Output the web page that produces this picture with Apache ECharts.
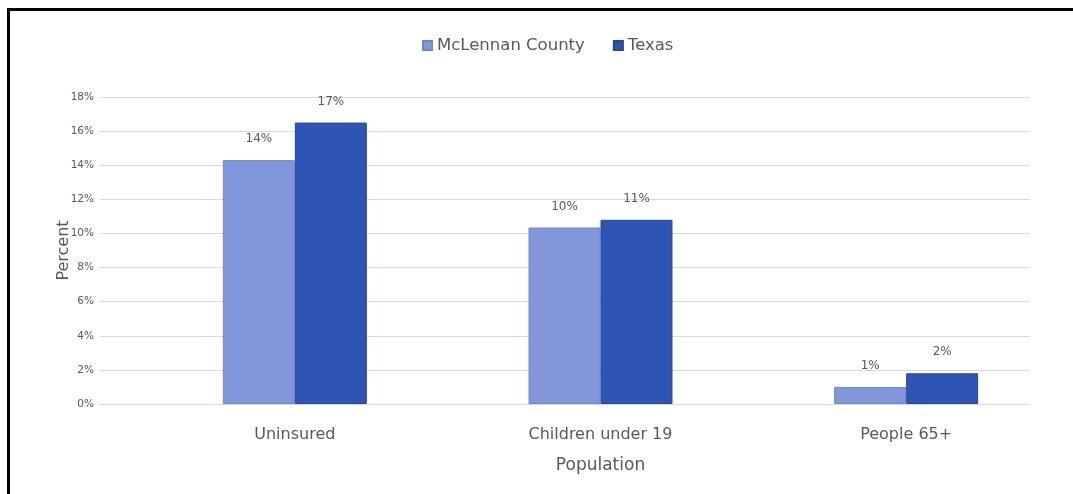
<!DOCTYPE html>
<html>
<head>
<meta charset="utf-8">
<style>
  html, body { margin: 0; padding: 0; background: #fff; }
  #chart { width: 1073px; height: 494px; }
</style>
<script src="https://cdn.jsdelivr.net/npm/echarts@6/dist/echarts.min.js"></script>
</head>
<body>
<div id="chart"></div>
<script>
// Share of population without health insurance
const categories = ['Uninsured', 'Children under 19', 'People 65+'];
const mclennan = [14.3, 10.35, 1.0];
const texas = [16.5, 10.8, 1.8];
const seriesNames = ['McLennan County', 'Texas'];
const yTicks = { min: 0, max: 18, interval: 2 };

const FONT = 'DejaVu Sans';
const TEXT = '#595959';

const chart = echarts.init(document.getElementById('chart'));

const labelOpt = {
  show: true,
  position: 'top',
  distance: 15,
  color: TEXT,
  fontFamily: FONT,
  fontSize: 12,
  formatter: p => Math.round(p.value) + '%'
};

chart.setOption({
  animation: false,
  backgroundColor: '#fff',
  textStyle: { fontFamily: FONT },
  legend: {
    data: seriesNames,
    top: 32,
    left: 417,
    icon: 'rect',
    itemWidth: 9,
    itemHeight: 9,
    itemGap: 28,
    textStyle: { color: TEXT, fontSize: 16.5, fontFamily: FONT }
  },
  grid: [
    // value scale and gridlines
    { left: 100, right: 43, top: 97, bottom: 90 },
    // bars
    { left: 142, right: 14, top: 97, bottom: 90 }
  ],
  xAxis: [
    { type: 'category', gridIndex: 0, data: categories, show: false },
    {
      type: 'category', gridIndex: 1, data: categories,
      axisLine: { show: false }, axisTick: { show: false },
      axisLabel: { color: TEXT, fontSize: 16, fontFamily: FONT, margin: 23 },
      name: 'Population', nameLocation: 'middle', nameGap: 53,
      nameTextStyle: { color: TEXT, fontSize: 17, fontFamily: FONT }
    }
  ],
  yAxis: [
    {
      type: 'value', gridIndex: 0,
      min: yTicks.min, max: yTicks.max, interval: yTicks.interval,
      axisLabel: { color: TEXT, fontSize: 10.5, fontFamily: FONT, margin: 6, formatter: '{value}%' },
      splitLine: { lineStyle: { color: '#d9d9d9', width: 1 } },
      axisLine: { show: false }, axisTick: { show: false },
      name: 'Percent', nameLocation: 'middle', nameGap: 28, nameRotate: 90,
      nameMoveOverlap: false,
      nameTextStyle: { color: TEXT, fontSize: 16, fontFamily: FONT }
    },
    {
      type: 'value', gridIndex: 1,
      min: yTicks.min, max: yTicks.max, interval: yTicks.interval,
      show: false, splitLine: { show: false }
    }
  ],
  series: [
    {
      name: seriesNames[0], type: 'bar', xAxisIndex: 1, yAxisIndex: 1,
      data: mclennan, barWidth: 72, barGap: '0%',
      itemStyle: { color: '#8297d9', borderColor: '#7086cc', borderWidth: 1 },
      label: labelOpt
    },
    {
      name: seriesNames[1], type: 'bar', xAxisIndex: 1, yAxisIndex: 1,
      data: texas, barWidth: 72, barGap: '0%',
      itemStyle: { color: '#2e55b4', borderColor: '#24479c', borderWidth: 1 },
      label: labelOpt
    }
  ],
  graphic: [
    { type: 'rect', left: 7, top: 8, shape: { width: 3, height: 486 }, style: { fill: '#000' } },
    { type: 'rect', left: 7, top: 8, shape: { width: 1066, height: 3 }, style: { fill: '#000' } }
  ]
});
</script>
</body>
</html>
